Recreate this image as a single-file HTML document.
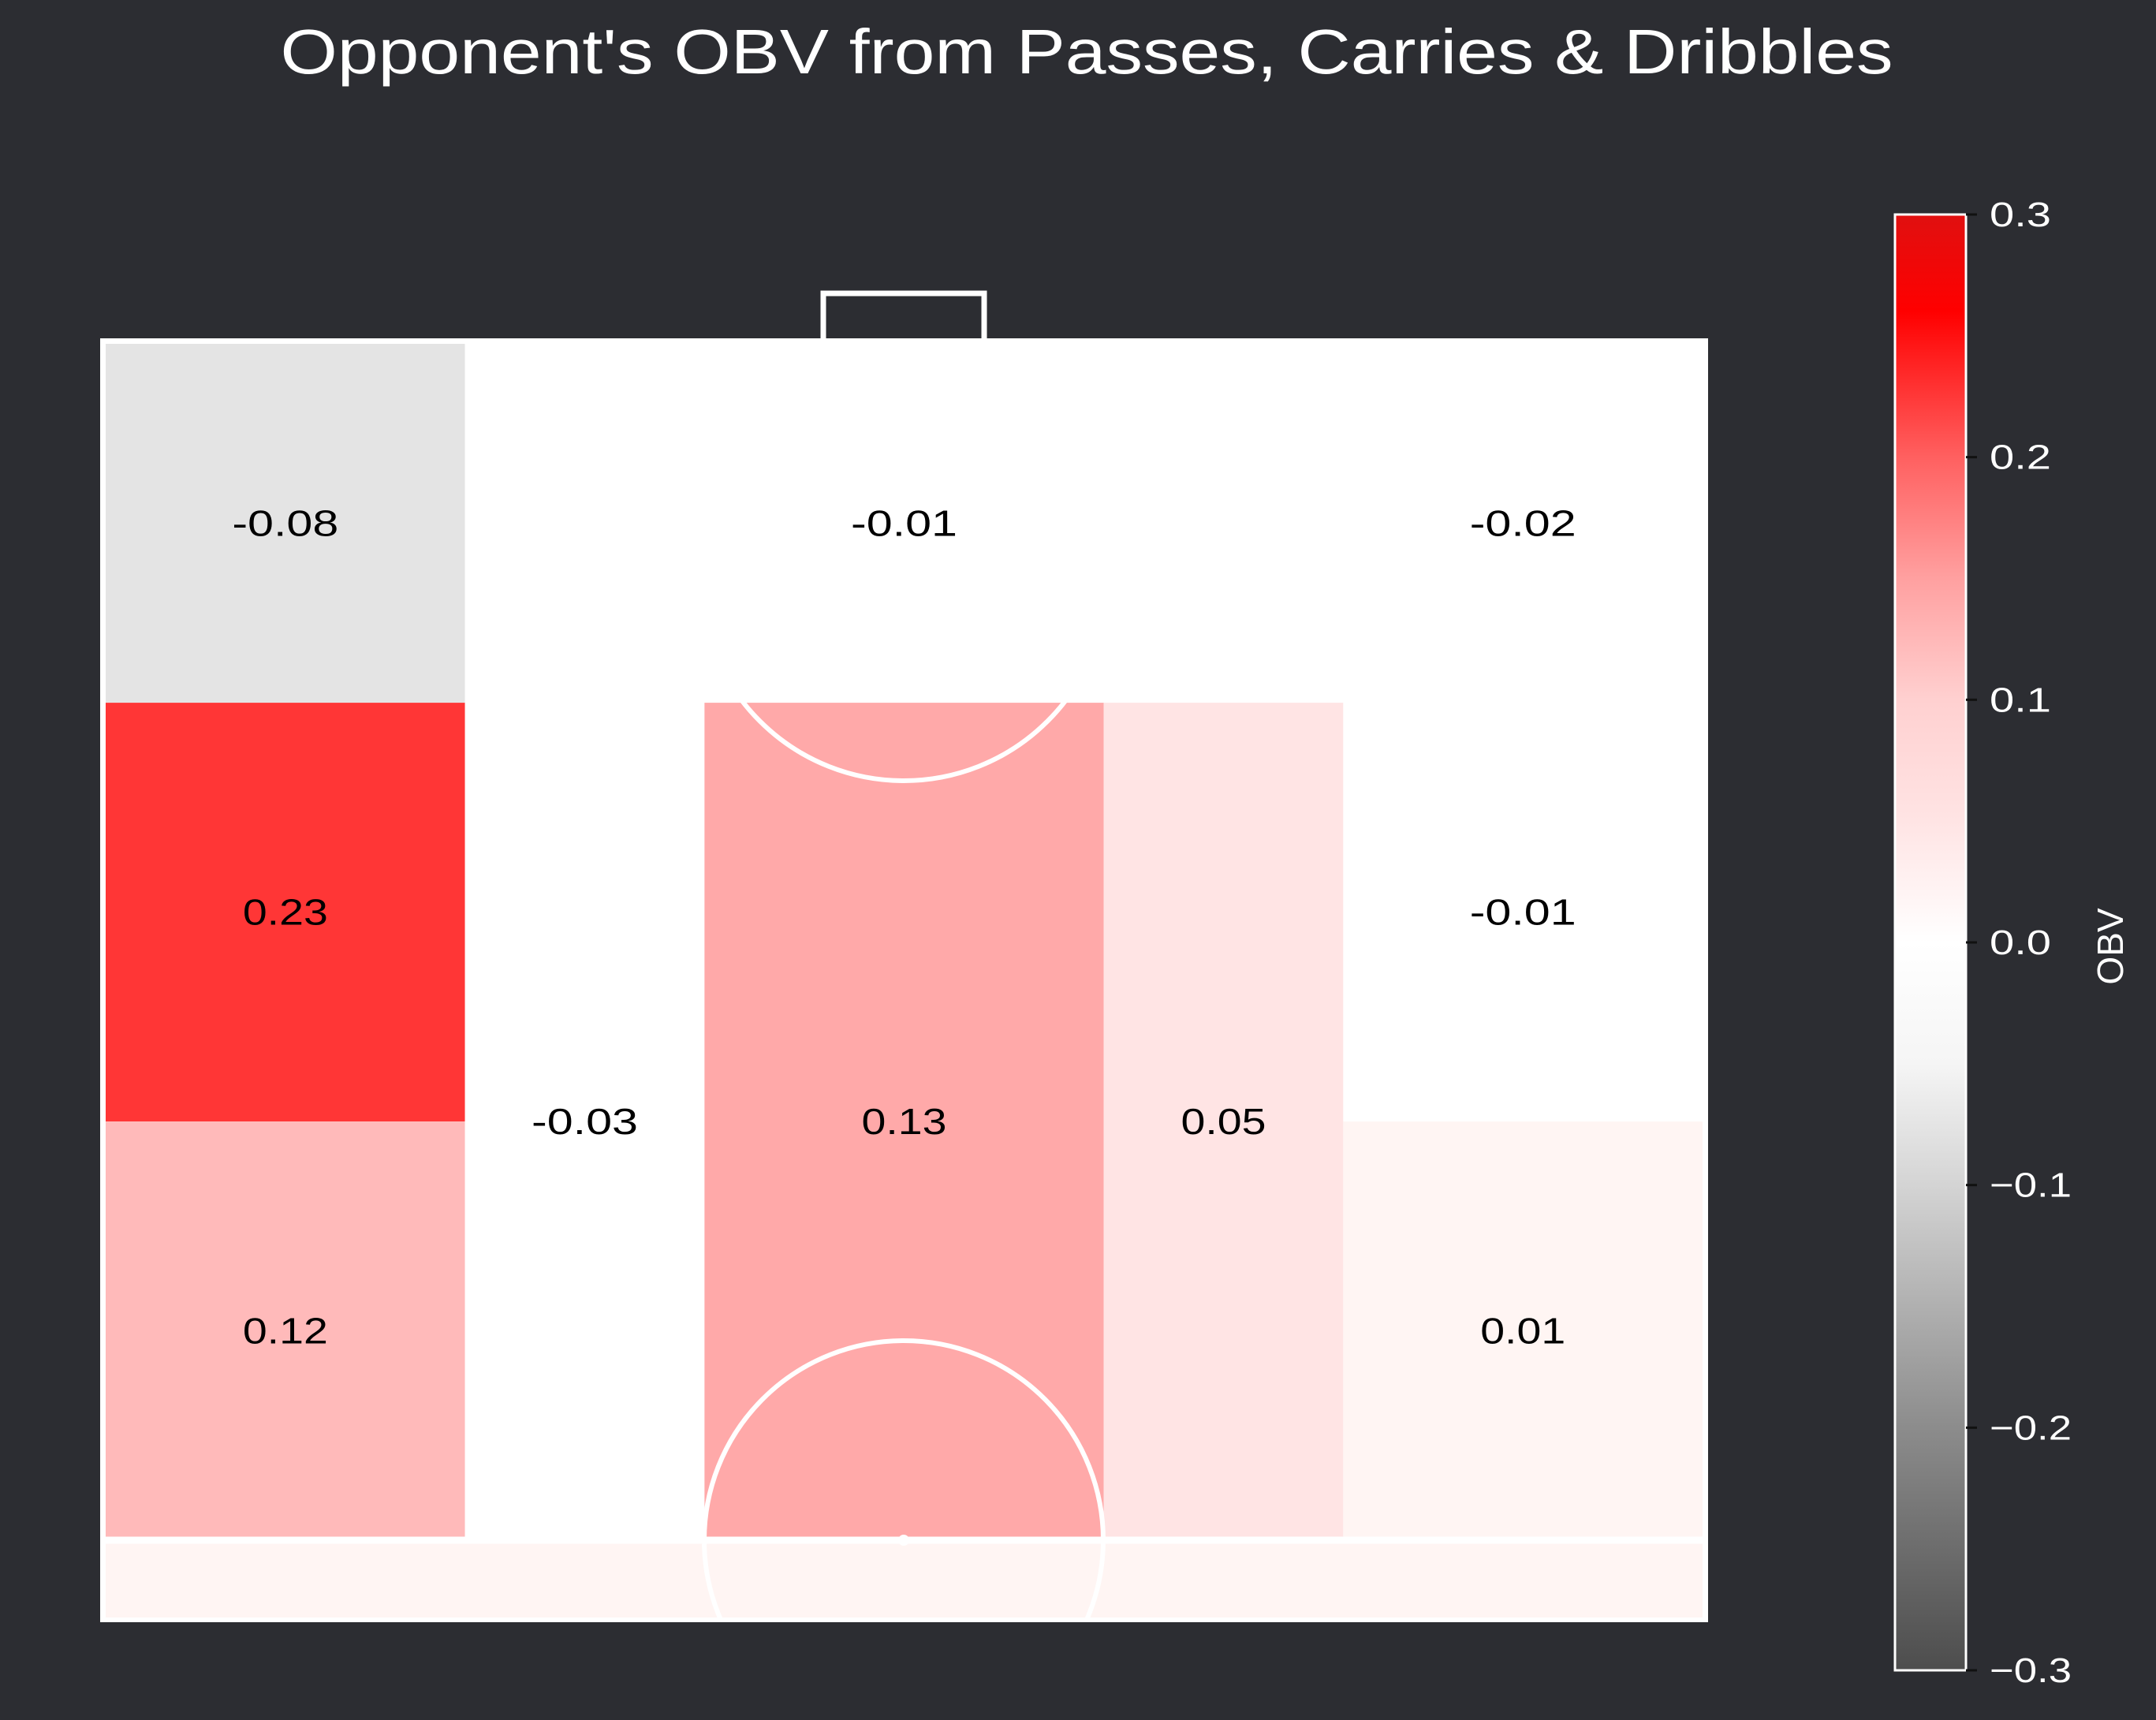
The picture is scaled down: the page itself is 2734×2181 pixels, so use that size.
<!DOCTYPE html>
<html><head><meta charset="utf-8"><style>
html,body{margin:0;padding:0;background:#2c2d32;}
svg{display:block;}
text{font-family:"Liberation Sans",sans-serif;}
</style></head><body>
<svg id="chart" width="2734" height="2181" viewBox="0 0 2734 2181" xmlns="http://www.w3.org/2000/svg">
<defs>
<linearGradient id="cbar" x1="0" y1="1" x2="0" y2="0">
<stop offset="0" stop-color="#4d4d4d"/>
<stop offset="0.1667" stop-color="#8c8c8c"/>
<stop offset="0.3333" stop-color="#d4d4d4"/>
<stop offset="0.4167" stop-color="#f5f5f5"/>
<stop offset="0.5" stop-color="#ffffff"/>
<stop offset="0.5833" stop-color="#ffe4e4"/>
<stop offset="0.6667" stop-color="#ffd0d0"/>
<stop offset="0.75" stop-color="#ffa0a0"/>
<stop offset="0.8333" stop-color="#ff6060"/>
<stop offset="0.9333" stop-color="#ff0000"/>
<stop offset="1" stop-color="#e01010"/>
</linearGradient>
</defs>
<text x="1378" y="93" text-anchor="middle" font-size="80" fill="#ffffff" textLength="2045" lengthAdjust="spacingAndGlyphs">Opponent's OBV from Passes, Carries &amp; Dribbles</text>
<g id="pitch"></g>
<g id="cells"></g>
<g id="lines"></g>
<g id="labels"></g>
<g id="colorbar"></g>
</svg>
<script>
// heatmap bins (pitch units: x across 0-80, y along 56-120)
const cellValues = [-0.08, -0.01, -0.02, 0.23, 0.12, -0.03, 0.13, 0.05, -0.01, 0.01, 0.01];
const cellX0 = [0, 18, 62, 0, 0, 18, 30, 50, 62, 62, 0];
const cellX1 = [18, 62, 80, 18, 18, 30, 50, 62, 80, 80, 80];
const cellY0 = [102, 102, 102, 81, 60, 60, 60, 60, 81, 60, 56];
const cellY1 = [120, 120, 120, 102, 81, 102, 102, 102, 102, 81, 60];
const cellShowLabel = [1, 1, 1, 1, 1, 1, 1, 1, 1, 1, 0];
const cbarTicks = [0.3, 0.2, 0.1, 0.0, -0.1, -0.2, -0.3];
const cbarTickLabels = ["0.3", "0.2", "0.1", "0.0", "\u22120.1", "\u22120.2", "\u22120.3"];

const NS = "http://www.w3.org/2000/svg";
function mk(tag, attrs, parent){const e=document.createElementNS(NS,tag);for(const k in attrs)e.setAttribute(k,attrs[k]);parent.appendChild(e);return e;}
const X = u => 134 + u * (2159 - 134) / 80;
const Y = u => 436 + (120 - u) * (1953 - 436) / 60;
const CB = v => 2118 - (v + 0.3) / 0.6 * (2118 - 272);

const stops = [[-0.3,[77,77,77]],[-0.2,[140,140,140]],[-0.1,[212,212,212]],[-0.08,[228,228,228]],[-0.04,[255,255,255]],[0,[255,255,255]],[0.0001,[255,252,250]],[0.01,[255,245,243]],[0.05,[255,228,228]],[0.1,[255,208,208]],[0.12,[255,186,186]],[0.13,[255,169,169]],[0.2,[255,96,96]],[0.23,[255,54,54]],[0.26,[255,0,0]],[0.3,[224,16,16]]];
function cmap(v){
  v=Math.max(-0.3,Math.min(0.3,v));
  for(let i=0;i<stops.length-1;i++){const a=stops[i],b=stops[i+1];
    if(v>=a[0]&&v<=b[0]){const t=(v-a[0])/(b[0]-a[0]);const c=a[1].map((x,j)=>Math.round(x+(b[1][j]-x)*t));return `rgb(${c[0]},${c[1]},${c[2]})`;}}
  return "#fff";
}

const pitch=document.getElementById('pitch');
const bg=mk('rect',{x:127,y:429,width:2039,height:1628,fill:'#ffffff'},pitch);



const cells=document.getElementById('cells'), labels=document.getElementById('labels');
cellValues.forEach((v,i)=>{
  const r=mk('rect',{x:X(cellX0[i]),y:Y(cellY1[i]),width:X(cellX1[i])-X(cellX0[i]),height:Y(cellY0[i])-Y(cellY1[i]),fill:cmap(v)},cells);
  
  
  if(cellShowLabel[i]){
    const s=v.toFixed(2);
    const t=mk('text',{x:(X(cellX0[i])+X(cellX1[i]))/2,y:(Y(cellY0[i])+Y(cellY1[i]))/2+16,'text-anchor':'middle','font-size':46,fill:'#000',textLength:s.length*27,lengthAdjust:'spacingAndGlyphs'},labels);
    t.textContent=s;
    
    
  }
});

const lines=document.getElementById('lines');
const L={fill:'none',stroke:'#ffffff','stroke-width':6};
const frame=mk('rect',Object.assign({x:130,y:432,width:2033,height:1622},L),lines);


const goal=mk('path',Object.assign({d:'M1044 432 V372 H1248 V432'},L,{'stroke-width':7}),lines);


const half=mk('line',{x1:130,y1:1953,x2:2163,y2:1953,stroke:'#ffffff','stroke-width':9},lines);


const cc=mk('clipPath',{id:'lowerclip'},lines);
mk('rect',{x:127,y:889,width:2039,height:1168},cc);
const circ=mk('circle',Object.assign({cx:1146,cy:1953,r:253,'clip-path':'url(#lowerclip)'},L),lines);


const arc=mk('circle',Object.assign({cx:1146,cy:732,r:258,'clip-path':'url(#lowerclip)'},L),lines);


const pbox=mk('rect',{x:893,y:432,width:507,height:152,fill:'none',stroke:'#ffffff','stroke-width':5,opacity:0.6},lines);


const dot=mk('circle',{cx:1146,cy:1953,r:7,fill:'#ffffff'},lines);



const cb=document.getElementById('colorbar');
const bar=mk('rect',{x:2403,y:272,width:90,height:1846,fill:'url(#cbar)',stroke:'#ffffff','stroke-width':3},cb);


cbarTicks.forEach((v,i)=>{
  const tk=mk('line',{x1:2493,y1:CB(v),x2:2507,y2:CB(v),stroke:'#111','stroke-width':3},cb);
  
  
  const s=cbarTickLabels[i];
  const t=mk('text',{x:2523,y:CB(v)+15,'font-size':44,fill:'#ffffff',textLength:s.length*26,lengthAdjust:'spacingAndGlyphs'},cb);
  t.textContent=s;
  
  
});
const ot=mk('text',{x:0,y:0,'font-size':46,fill:'#ffffff','text-anchor':'middle',transform:'translate(2692,1200) rotate(-90)'},cb);
ot.textContent='OBV';


</script>
</body></html>
